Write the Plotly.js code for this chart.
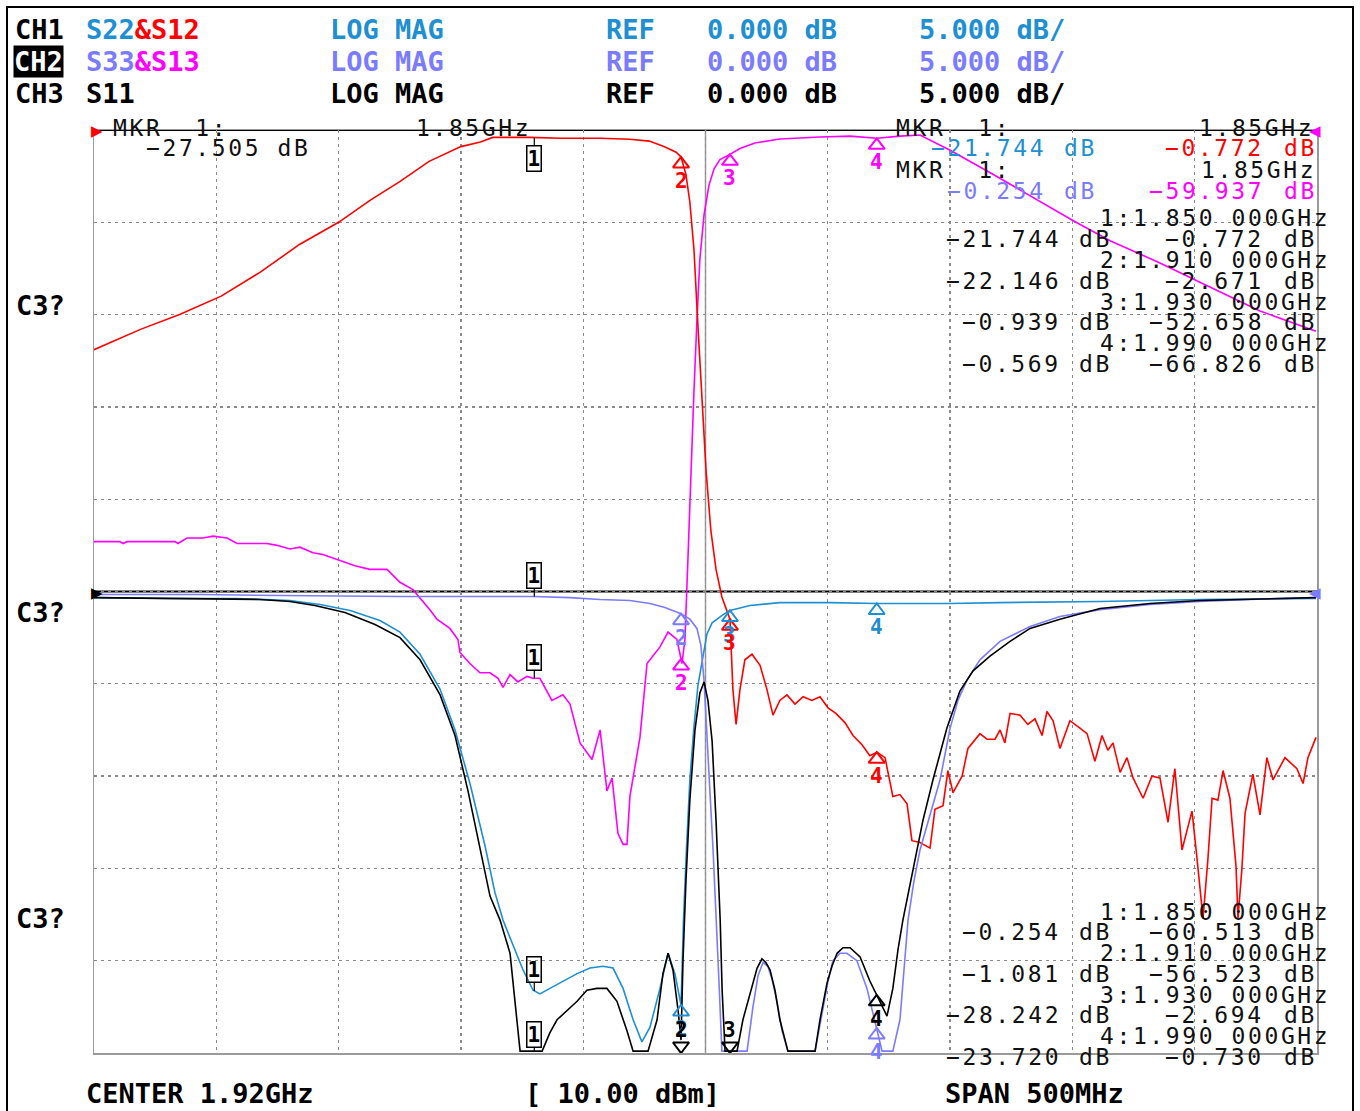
<!DOCTYPE html>
<html><head><meta charset="utf-8">
<script src="https://cdn.plot.ly/plotly-3.0.1.min.js"></script>
<style>html,body{margin:0;padding:0;background:#fff}#chart{width:1360px;height:1111px}</style>
</head><body><div id="chart"></div>
<script>
// ---------------- DATA (frequency in MHz, level in dB) ----------------
const markerFreqs = [1850, 1910, 1930, 1990];

// S12 (red) - channel 1 transmission, reference at top
const s12Freq = [1670,1689,1705,1722,1738,1754,1770,1783,1795,1807,
  1820,1828,1833,1848,1861,1877,1889,1897,1903,1908,
  1910,1912,1913.6,1915.3,1916.9,1918.5,1920.2,1922.2,1924.3,1926.7,
  1928.8,1930,1931.2,1932.5,1934.1,1936.1,1939,1942.3,1945.1,1947.6,
  1950.4,1953.3,1956.6,1959.9,1963.5,1966.8,1970.1,1973.3,1977,1980.3,
  1984,1987.2,1990.1,1993.4,1996.6,1999.5,2002.4,2004.4,2007.7,2011.8,
  2013.8,2017.1,2019.1,2021.2,2024.9,2027.3,2032.2,2035.1,2038.4,2040.4,
  2042.4,2044.5,2048.6,2051.8,2054.7,2057.6,2059.6,2062.1,2064.9,2069,
  2073.1,2076,2079.2,2082.1,2084.5,2086.6,2089.5,2092.3,2094.8,2098.9,
  2102.5,2105.8,2109.1,2111.9,2114.8,2118.9,2120.9,2123.4,2125.4,2127.1,
  2129.5,2131.6,2134.4,2136.9,2137.7,2139.3,2140.6,2143.8,2146.7,2149.5,
  2152,2156.9,2161.8,2164.3,2166.3,2169.6];
const s12Db = [-11.9,-10.8,-10.0,-9.0,-7.7,-6.2,-5.0,-3.8,-2.8,-1.7,
  -0.9,-0.65,-0.4,-0.4,-0.45,-0.45,-0.5,-0.6,-0.9,-1.2,
  -1.46,-2.4,-3.9,-6.5,-10.6,-14.6,-18.4,-21.7,-23.8,-25.3,
  -26.0,-26.5,-30.3,-32.2,-30.3,-28.7,-28.4,-29.0,-30.3,-31.7,
  -30.9,-30.6,-31.1,-30.7,-30.9,-30.7,-31.3,-31.6,-32.1,-32.8,
  -33.3,-33.9,-33.7,-34.0,-36.1,-36.0,-36.5,-38.5,-38.6,-38.9,
  -36.8,-36.6,-34.7,-35.9,-35.0,-33.5,-32.7,-33.0,-33.0,-32.5,
  -33.2,-31.6,-31.7,-32.2,-31.9,-32.8,-31.5,-32.0,-33.5,-32.0,
  -32.4,-32.7,-34.2,-32.8,-33.6,-33.2,-34.8,-34.0,-35.1,-36.2,
  -35.0,-35.1,-37.5,-34.6,-39.0,-36.9,-39.4,-42.7,-39.5,-36.2,
  -36.3,-34.7,-36.2,-39.9,-42.7,-40.0,-37.0,-34.9,-37.1,-34.0,
  -35.2,-34.0,-34.6,-35.4,-34.0,-32.9];

// S13 (magenta) - channel 2 transmission, reference at top
const s13Freq = [1670,1680.6,1681.9,1683.5,1703.1,1704.3,1708,1714.6,1718.6,1724.4,
  1728.5,1740.7,1744.8,1750.1,1754.2,1759.5,1763.6,1770.6,1776.7,1782.8,
  1789.8,1795.1,1800.4,1807.4,1810.2,1815.5,1818.8,1819.6,1823.7,1827.8,
  1831.9,1835.2,1837.2,1840.1,1843.3,1847,1849.5,1852.3,1857.2,1861.7,
  1864.6,1868.7,1873.6,1876.9,1879.7,1881.8,1884.2,1886.3,1887.9,1889.1,
  1893.2,1896.1,1901.4,1904.7,1908.3,1910.4,1911.6,1912.8,1914,1915.3,
  1916.5,1917.7,1919.4,1921.4,1923.5,1925.9,1929.6,1934.1,1940.2,1950.4,
  1966.8,1979.1,1990.1,1999.5,2007.7,2020,2037.5,2055.5,2070.2,2085.4,
  2105.8,2126.2,2146.7,2169.6];
const s13Db = [-22.3,-22.3,-22.4,-22.3,-22.3,-22.4,-22.1,-22.1,-22.0,-22.1,
  -22.4,-22.4,-22.5,-22.7,-22.6,-22.9,-23.0,-23.3,-23.6,-23.8,
  -23.8,-24.5,-24.9,-26.0,-26.5,-27.0,-27.6,-28.3,-28.9,-29.4,
  -29.4,-29.7,-30.2,-29.5,-29.9,-29.6,-29.7,-29.7,-30.9,-30.6,
  -31.1,-33.2,-34.1,-32.5,-35.8,-35.1,-38.1,-38.7,-38.7,-36.1,
  -32.9,-28.9,-28.0,-27.2,-27.6,-28.9,-27.6,-23.3,-18.4,-14.1,
  -10.3,-7.0,-4.6,-3.0,-2.1,-1.6,-1.35,-1.0,-0.7,-0.49,
  -0.38,-0.33,-0.45,-0.33,-0.27,-1.1,-2.4,-3.8,-4.9,-6.0,
  -7.2,-8.5,-9.8,-10.9];

// S22 (blue) - channel 1 reflection, reference at centre line
const s22Freq = [1670,1701,1728.5,1750,1762.4,1774.7,1786.9,1795.1,1803.3,1811.5,
  1817.6,1823.7,1829.9,1833.9,1837.2,1841.3,1845.4,1849.5,1852.3,1856.4,
  1861.7,1867.5,1872.8,1878.1,1882.2,1886.3,1890.4,1894,1897.3,1901.4,
  1904.7,1907.5,1910,1911,1912.2,1913.6,1915.3,1916.9,1919,1920.6,
  1922.7,1924.7,1927.2,1930,1938.2,1950.4,1970.9,1990.1,2020,2040.4,
  2081.3,2122.2,2169.6];
const s22Db = [-0.33,-0.38,-0.38,-0.49,-0.70,-1.03,-1.57,-2.2,-3.4,-5.3,
  -7.5,-10.4,-13.8,-16.3,-17.8,-19.2,-20.5,-21.6,-21.8,-21.5,
  -21.1,-20.7,-20.4,-20.3,-20.4,-21.5,-23.2,-24.4,-23.6,-21.5,
  -19.6,-20.7,-22.4,-17.8,-14.0,-10.2,-7.3,-5.1,-3.5,-2.3,
  -1.7,-1.5,-1.25,-1.03,-0.76,-0.6,-0.6,-0.65,-0.65,-0.6,
  -0.54,-0.43,-0.38];

// S33 (violet) - channel 2 reflection, reference at centre line
const s33Freq = [1670,1713.3,1746,1795.1,1849.5,1864.6,1876.9,1889.1,1897.3,1903.4,
  1910,1913.6,1916.5,1918.1,1919.4,1920.6,1921.8,1923.1,1924.3,1925.5,
  1926.7,1937,1939.4,1941.5,1943.5,1945.5,1947.2,1949.2,1951.3,1953.7,
  1964.8,1967.6,1970.1,1972.1,1975,1977.8,1981.9,1986,1990.1,1992.2,
  1996.6,1999.5,2002.8,2005.2,2007.7,2011.8,2015.9,2020,2023.2,2026.9,
  2032.2,2040.4,2052.7,2064.9,2081.3,2101.7,2122.2,2142.6,2169.6];
const s33Db = [-0.16,-0.16,-0.22,-0.27,-0.27,-0.33,-0.43,-0.49,-0.65,-0.87,
  -1.2,-1.5,-2.0,-2.9,-4.8,-7.5,-10.8,-14.0,-17.3,-21.1,
  -24.9,-24.9,-22.5,-20.8,-20.1,-20.3,-21.0,-22.2,-23.8,-24.9,
  -24.9,-22.9,-21.1,-20.0,-19.6,-19.6,-20.0,-21.5,-23.7,-24.9,
  -24.9,-23.2,-17.8,-15.7,-14.0,-12.1,-10.2,-7.4,-5.9,-4.8,
  -3.7,-2.7,-1.9,-1.35,-0.98,-0.70,-0.54,-0.43,-0.33];

// S11 (black) - channel 3 reflection, reference at centre line
const s11Freq = [1670,1725.6,1737.9,1750.1,1760.3,1772.6,1784.9,1795.1,1803.3,1811.5,
  1817.6,1822.9,1827.8,1831.9,1836,1840.1,1842.1,1844.2,1853.2,1856.4,
  1859.3,1861.7,1867.5,1871.5,1875.6,1879.7,1883.8,1887.9,1890.4,1896.5,
  1900.2,1902.6,1904.7,1906.7,1908.8,1910,1910.8,1912,1913.6,1915.7,
  1917.7,1919.4,1921,1922.7,1924.3,1926,1926.8,1928,1932.9,1935.3,
  1937.4,1939.4,1941.1,1943.1,1944.7,1946.4,1948.4,1950.4,1953.7,1964.8,
  1966.8,1969.7,1971.7,1973.8,1976.2,1979.1,1983.2,1987.2,1991.3,1994.2,
  1996.6,1998.7,2000.7,2004.8,2008.9,2013,2018.7,2024,2029.4,2036.3,
  2044.5,2052.7,2064.9,2081.3,2101.7,2122.2,2169.6];
const s11Db = [-0.33,-0.38,-0.43,-0.54,-0.76,-1.14,-1.79,-2.5,-3.7,-5.6,
  -7.8,-10.8,-14.0,-16.5,-17.8,-19.6,-22.2,-24.9,-24.9,-23.9,
  -23.2,-22.9,-22.2,-21.6,-21.5,-21.5,-22.2,-23.8,-24.9,-24.9,
  -23.2,-20.7,-19.6,-20.5,-22.7,-24.3,-20.0,-15.7,-11.3,-7.5,
  -5.5,-4.9,-5.9,-8.1,-12.4,-17.8,-21.6,-24.9,-24.9,-23.2,
  -22.2,-21.1,-20.4,-19.9,-20.1,-20.5,-21.6,-23.2,-24.9,-24.9,
  -23.2,-21.2,-20.3,-19.6,-19.3,-19.3,-19.8,-21.1,-22.2,-23.0,
  -21.5,-19.4,-17.8,-15.1,-12.4,-10.2,-7.4,-5.4,-4.3,-3.5,
  -2.7,-2.0,-1.5,-0.92,-0.65,-0.49,-0.33];

// Header / readout texts
const channelNames = ['CH1', 'CH2', 'CH3'];
const channelParams = [['S22', '&amp;S12'], ['S33', '&amp;S13'], ['S11', '']];
const formatLabel = 'LOG MAG';
const refLabel = 'REF';
const refValue = '0.000 dB';
const scaleValue = '5.000 dB/';
const footerCenter = 'CENTER 1.92GHz';
const footerPower = '[ 10.00 dBm]';
const footerSpan = 'SPAN 500MHz';
const sideLabel = 'C3?';
const markerFreqLabels = ['1:1.850 000GHz', '2:1.910 000GHz', '3:1.930 000GHz', '4:1.990 000GHz'];
const upperColA = ['\u221221.744', '\u221222.146', '\u22120.939', '\u22120.569'];
const upperColB = ['\u22120.772', '\u22122.671', '\u221252.658', '\u221266.826'];
const lowerColA = ['\u22120.254', '\u22121.081', '\u221228.242', '\u221223.720'];
const lowerColB = ['\u221260.513', '\u221256.523', '\u22122.694', '\u22120.730'];
const activeReadout = {s11: '\u221227.505 dB', s22: '\u221221.744', s12: '\u22120.772', s33: '\u22120.254', s13: '\u221259.937', freq: '1.85GHz'};

// ---------------- STYLE ----------------
const RED = '#ff0000', MAG = '#ff00ff', CYAN = '#1e8fd2', LAV = '#7b7bff', BLK = '#000000';
const MONO = '"DejaVu Sans Mono", "Liberation Mono", monospace';
const PL = 94, PR = 1317, PT = 130, PB = 1053;
const px = x => (x - PL) / (PR - PL);
const py = y => (PB - y) / (PB - PT);
const NB = '\u00a0';
const DB_PER_PX = 50 / (PB - PT);   // both y axes span 50 dB over the plot height

function txt(text, x, y, color, o = {}) {
  return Object.assign({xref: 'paper', yref: 'paper', x: px(x), y: py(y), text: text, showarrow: false,
    xanchor: 'left', yanchor: 'middle', font: {family: MONO, size: o.size || 23, color: color, weight: o.weight || 'normal'}}, o.extra || {});
}
function rd(text, x, y, color, anchor) {
  return txt('<span style="letter-spacing:2.6px">' + text + '</span>', x, y, color,
    {extra: {xanchor: anchor || 'left', height: 19, borderpad: 0}});
}

const series = [
  {name: 'S22', f: s22Freq, d: s22Db, color: CYAN, axis: 'y2',
   marks: {1: 'boxUp', 2: 'tri', 3: 'tri', 4: 'tri'}},
  {name: 'S33', f: s33Freq, d: s33Db, color: LAV, axis: 'y2',
   marks: {1: 'boxUp', 2: 'tri', 4: 'tri'}},
  {name: 'S11', f: s11Freq, d: s11Db, color: BLK, axis: 'y2',
   marks: {1: 'boxUp', 2: 'low', 3: 'low', 4: 'tri'}},
  {name: 'S13', f: s13Freq, d: s13Db, color: MAG, axis: 'y',
   marks: {1: 'boxUp', 2: 'tri', 3: 'tri', 4: 'tri'}},
  {name: 'S12', f: s12Freq, d: s12Db, color: RED, axis: 'y',
   marks: {1: 'boxDown', 2: 'tri', 3: 'tri', 4: 'tri'}}
];

function interp(f, d, x) {
  for (let i = 0; i < f.length - 1; i++) {
    if (x >= f[i] && x <= f[i + 1]) return d[i] + (d[i + 1] - d[i]) * (x - f[i]) / (f[i + 1] - f[i]);
  }
  return d[d.length - 1];
}

const traces = series.map(s => ({
  type: 'scatter', mode: 'lines', x: s.f, y: s.d, yaxis: s.axis, name: s.name,
  line: {color: s.color, width: 1.6}, hoverinfo: 'skip'
}));

const ann = [];
const TRI = 14, R = TRI / 2;

// marker glyphs
series.forEach(s => {
  const up = {x: [], y: []}, dn = {x: [], y: []};
  const lo = s.axis === 'y2' ? -25 : -50;
  Object.keys(s.marks).forEach(k => {
    const n = +k, mf = markerFreqs[n - 1], kind = s.marks[k];
    let v = interp(s.f, s.d, mf);
    if (v < lo) v = lo;
    const yref = s.axis;
    if (kind === 'boxUp' || kind === 'boxDown') {
      ann.push({xref: 'x', yref: yref, x: mf, y: v, text: '<b>1</b>', showarrow: true, arrowhead: 0,
        arrowwidth: 1.2, arrowcolor: '#000', ax: 0, ay: kind === 'boxUp' ? (v <= lo + 0.2 ? -17 : -21) : 21,
        standoff: 0, bordercolor: '#000', borderwidth: 1.5, borderpad: 0,
        font: {family: MONO, size: 21, color: '#000'}});
    } else if (kind === 'tri') {
      up.x.push(mf); up.y.push(v - R * DB_PER_PX);
      ann.push({xref: 'x', yref: yref, x: mf, y: v, text: '<b>' + n + '</b>', showarrow: false,
        xanchor: 'center', yanchor: 'top', yshift: -13, height: 19, borderpad: 0,
        font: {family: MONO, size: 21, color: s.color}});
    } else {
      dn.x.push(mf); dn.y.push(lo + R * DB_PER_PX);
      ann.push({xref: 'x', yref: yref, x: mf, y: lo, text: '<b>' + n + '</b>', showarrow: false,
        xanchor: 'center', yanchor: 'bottom', yshift: 13, height: 19, borderpad: 0,
        font: {family: MONO, size: 21, color: s.color}});
    }
  });
  [[up, 'triangle-up-open'], [dn, 'triangle-down-open']].forEach(([g, sym]) => {
    if (!g.x.length) return;
    traces.push({type: 'scatter', mode: 'markers', x: g.x, y: g.y, yaxis: s.axis, cliponaxis: false,
      hoverinfo: 'skip', marker: {symbol: sym, size: TRI, color: s.color, line: {color: s.color, width: 2}}});
  });
});

// reference position indicators
ann.push({xref: 'paper', yref: 'y', x: px(89), y: 0, text: '\u25B6', showarrow: false, font: {size: 15, color: RED}});
ann.push({xref: 'paper', yref: 'y', x: px(1323), y: 0, text: '\u25C0', showarrow: false, font: {size: 15, color: MAG}});
ann.push({xref: 'paper', yref: 'y2', x: px(89), y: 0, text: '\u25B6', showarrow: false, font: {size: 15, color: BLK}});
ann.push({xref: 'paper', yref: 'y2', x: px(1323), y: 0, text: '\u25C0', showarrow: false, font: {size: 15, color: LAV}});

// header
const hdrColors = [[CYAN, RED], [LAV, MAG], [BLK, BLK]];
const hdrY = [30, 62, 94];
channelNames.forEach((c, i) => {
  const col = hdrColors[i][0];
  const extra = i === 1 ? {bgcolor: '#000', borderpad: 0} : {};
  ann.push(txt(c, 13, hdrY[i], i === 1 ? '#fff' : BLK, {size: 27, weight: 'bold', extra: extra}));
  ann.push(txt(channelParams[i][0] + '<span style="color:' + hdrColors[i][1] + '">' + channelParams[i][1] + '</span>',
    84, hdrY[i], col, {size: 27, weight: 'bold'}));
  ann.push(txt(formatLabel, 328, hdrY[i], col, {size: 27, weight: 'bold'}));
  ann.push(txt(refLabel, 604, hdrY[i], col, {size: 27, weight: 'bold'}));
  ann.push(txt(refValue, 705, hdrY[i], col, {size: 27, weight: 'bold'}));
  ann.push(txt(scaleValue, 917, hdrY[i], col, {size: 27, weight: 'bold'}));
});

// footer and side labels
ann.push(txt(footerCenter, 84, 1093, BLK, {size: 27, weight: 'bold'}));
ann.push(txt(footerPower, 523, 1093, BLK, {size: 27, weight: 'bold'}));
ann.push(txt(footerSpan, 943, 1093, BLK, {size: 27, weight: 'bold'}));
[305, 612, 919].forEach(y => ann.push(txt(sideLabel, 14, y, BLK, {size: 27, weight: 'bold'})));

// active marker readouts
const RB = '#111';
ann.push(rd('MKR' + NB + NB + '1:', 112, 127, RB));
ann.push(rd(activeReadout.freq, 532, 127, RB, 'right'));
ann.push(rd(activeReadout.s11, 145, 147, RB));
ann.push(rd('MKR' + NB + NB + '1:', 895, 127, RB));
ann.push(rd(activeReadout.freq, 1315, 127, RB, 'right'));
ann.push(rd(activeReadout.s22, 1047, 147, CYAN, 'right'));
ann.push(rd('dB', 1063, 147, CYAN));
ann.push(rd(activeReadout.s12, 1265, 147, RED, 'right'));
ann.push(rd('dB', 1318, 147, RED, 'right'));
ann.push(rd('MKR' + NB + NB + '1:', 895, 170, RB));
ann.push(rd(activeReadout.freq, 1317, 170, RB, 'right'));
ann.push(rd(activeReadout.s33, 1047, 190, LAV, 'right'));
ann.push(rd('dB', 1063, 190, LAV));
ann.push(rd(activeReadout.s13, 1265, 190, MAG, 'right'));
ann.push(rd('dB', 1318, 190, MAG, 'right'));

// marker list blocks
function block(yStart, colA, colB) {
  markerFreqLabels.forEach((lbl, i) => {
    const yF = yStart + i * 41.5, yV = yF + 20.5;
    ann.push(rd(lbl, 1331, yF, RB, 'right'));
    ann.push(rd(colA[i], 1062, yV, RB, 'right'));
    ann.push(rd('dB', 1078, yV, RB));
    ann.push(rd(colB[i], 1265, yV, RB, 'right'));
    ann.push(rd('dB', 1318, yV, RB, 'right'));
  });
}
block(218, upperColA, upperColB);
block(911, lowerColA, lowerColB);

const shapes = [
  {type: 'line', xref: 'paper', yref: 'y', x0: 0, x1: 1, y0: 0, y1: 0, line: {color: '#000', width: 2}, layer: 'between'},
  {type: 'line', xref: 'paper', yref: 'y2', x0: 0, x1: 1, y0: 0, y1: 0, line: {color: '#000', width: 2}, layer: 'between'},
  {type: 'line', xref: 'x', yref: 'paper', x0: 1920, x1: 1920, y0: 0, y1: 1, line: {color: '#999', width: 1.5}, layer: 'between'},
  {type: 'rect', xref: 'paper', yref: 'paper', x0: px(7), x1: px(1353), y0: py(1125), y1: py(7), line: {color: '#000', width: 2}}
];

const gridAxis = {showgrid: true, gridcolor: '#8a8a8a', gridwidth: 1.2, griddash: '3px,4px', zeroline: false,
  showticklabels: false, ticks: '', showline: true, mirror: true, linecolor: '#9a9a9a', linewidth: 1.5};

const layout = {
  width: 1360, height: 1111,
  margin: {l: PL, r: 1360 - PR, t: PT, b: 1111 - PB, pad: 0},
  paper_bgcolor: '#fff', plot_bgcolor: '#fff', showlegend: false, hovermode: false,
  xaxis: Object.assign({}, gridAxis, {range: [1670, 2170], tick0: 1670, dtick: 50, autorange: false}),
  yaxis: Object.assign({}, gridAxis, {range: [-50, 0], tick0: 0, dtick: 5, autorange: false}),
  yaxis2: {overlaying: 'y', range: [-25, 25], autorange: false, showgrid: false, zeroline: false,
    showticklabels: false, ticks: '', showline: false},
  shapes: shapes,
  annotations: ann
};

Plotly.newPlot('chart', traces, layout, {staticPlot: true, displayModeBar: false});
</script></body></html>
